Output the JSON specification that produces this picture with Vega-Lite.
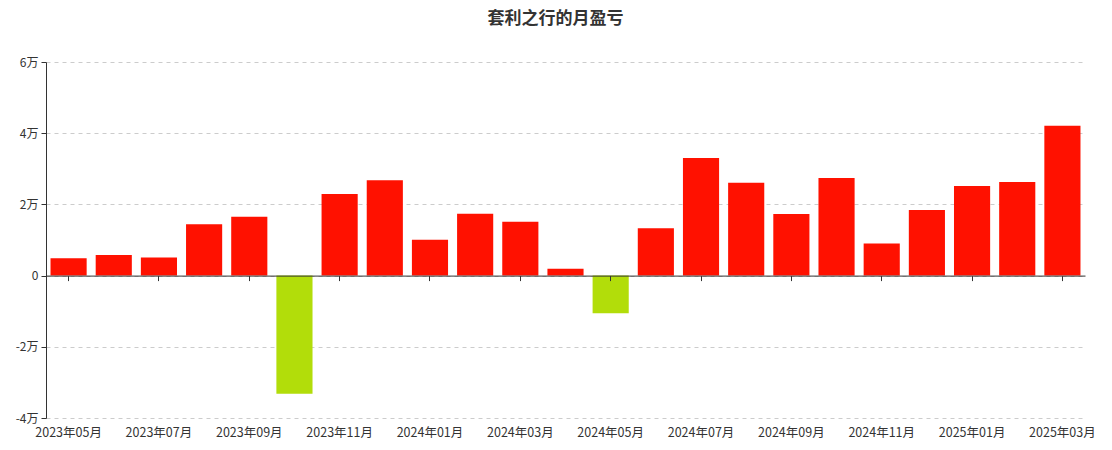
{
  "$schema": "https://vega.github.io/schema/vega-lite/v6.json",
  "autosize": {"type": "none"},
  "padding": {"left": 46, "top": 62, "right": 27, "bottom": 32},
  "width": 1039,
  "height": 356,
  "background": "#ffffff",
  "config": {
    "font": "Noto Sans CJK SC",
    "view": {"stroke": null}
  },
  "title": {
    "text": "套利之行的月盈亏",
    "anchor": "middle",
    "frame": "group",
    "dx": -10,
    "offset": 28,
    "fontSize": 17,
    "fontWeight": "bold",
    "color": "#333333",
    "font": "Noto Sans CJK SC"
  },
  "data": {
    "values": [
      {"month": "2023年05月", "value": 4900},
      {"month": "2023年06月", "value": 5800},
      {"month": "2023年07月", "value": 5100},
      {"month": "2023年08月", "value": 14400},
      {"month": "2023年09月", "value": 16500},
      {"month": "2023年10月", "value": -33200},
      {"month": "2023年11月", "value": 22900},
      {"month": "2023年12月", "value": 26800},
      {"month": "2024年01月", "value": 10100},
      {"month": "2024年02月", "value": 17400},
      {"month": "2024年03月", "value": 15100},
      {"month": "2024年04月", "value": 1900},
      {"month": "2024年05月", "value": -10600},
      {"month": "2024年06月", "value": 13300},
      {"month": "2024年07月", "value": 33000},
      {"month": "2024年08月", "value": 26100},
      {"month": "2024年09月", "value": 17300},
      {"month": "2024年10月", "value": 27400},
      {"month": "2024年11月", "value": 9000},
      {"month": "2024年12月", "value": 18400},
      {"month": "2025年01月", "value": 25200},
      {"month": "2025年02月", "value": 26300},
      {"month": "2025年03月", "value": 42100}
    ]
  },
  "layer": [
    {
      "mark": {"type": "bar", "opacity": 0},
      "encoding": {
        "x": {
          "field": "month",
          "type": "nominal",
          "sort": null,
          "scale": {"paddingInner": 0.2, "paddingOuter": 0.1},
          "axis": {
            "orient": "bottom",
            "title": null,
            "offset": -142.4,
            "values": ["2023年05月", "2023年07月", "2023年09月", "2023年11月", "2024年01月", "2024年03月", "2024年05月", "2024年07月", "2024年09月", "2024年11月", "2025年01月", "2025年03月"],
            "labels": false,
            "domain": true,
            "domainColor": "#333333",
            "ticks": true,
            "tickColor": "#333333",
            "tickSize": 5,
            "grid": false,
            "zindex": 1
          }
        },
        "y": {
          "field": "value",
          "type": "quantitative",
          "scale": {"domain": [-40000, 60000], "nice": false},
          "axis": {
            "title": null,
            "values": [-40000, -20000, 0, 20000, 40000, 60000],
            "labelExpr": "datum.value == 0 ? '0' : (datum.value / 10000) + '万'",
            "domainColor": "#333333",
            "tickColor": "#333333",
            "tickSize": 5,
            "labelPadding": 3,
            "labelFontSize": 12,
            "labelColor": "#333333",
            "labelFont": "Noto Sans CJK SC",
            "grid": true,
            "gridColor": "#cccccc",
            "gridDash": [4, 4]
          }
        }
      }
    },
    {
      "mark": {"type": "bar"},
      "encoding": {
        "x": {
          "field": "month",
          "type": "nominal",
          "sort": null,
          "axis": {
            "orient": "bottom",
            "title": null,
            "values": ["2023年05月", "2023年07月", "2023年09月", "2023年11月", "2024年01月", "2024年03月", "2024年05月", "2024年07月", "2024年09月", "2024年11月", "2025年01月", "2025年03月"],
            "labelAngle": 0,
            "domain": false,
            "ticks": false,
            "grid": false,
            "labelPadding": 8,
            "labelFontSize": 12.5,
            "labelColor": "#333333",
            "labelFont": "Noto Sans CJK SC"
          }
        },
        "y": {
          "field": "value",
          "type": "quantitative"
        },
        "color": {
          "condition": {"test": "datum.value < 0", "value": "#b2dd0a"},
          "value": "#ff1100"
        }
      }
    }
  ],
  "resolve": {"axis": {"x": "independent"}}
}
